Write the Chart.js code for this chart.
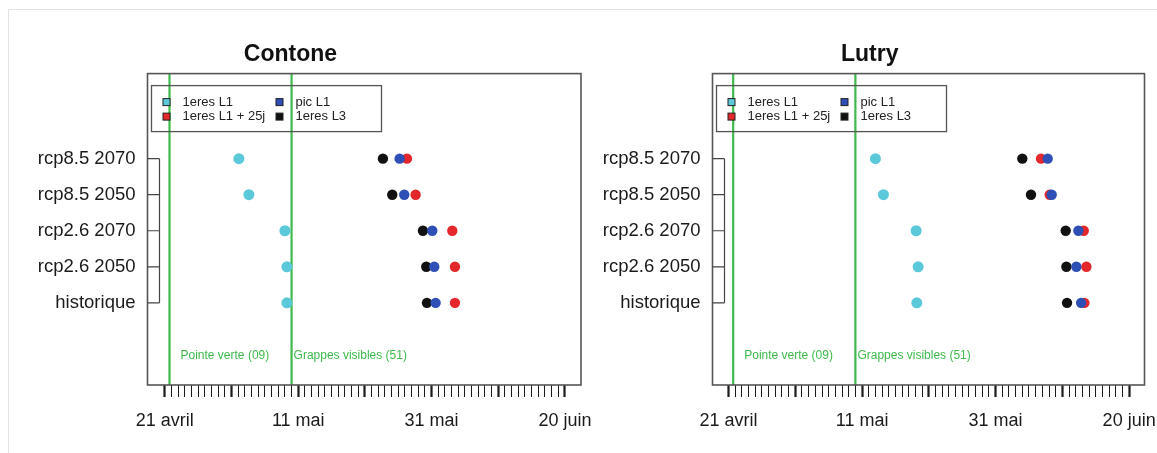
<!DOCTYPE html>
<html>
<head>
<meta charset="utf-8">
<script src="https://cdn.jsdelivr.net/npm/chart.js@4/dist/chart.umd.min.js"></script>
<style>
  html, body { margin: 0; padding: 0; background: #fff; overflow: hidden; }
  body { width: 1157px; height: 453px; position: relative; }
  #frame { position: absolute; left: 8px; top: 9px; width: 1160px; height: 460px;
           border-top: 1px solid #e2e2e2; border-left: 1px solid #e2e2e2; }
  canvas { position: absolute; top: 0; }
  #c1 { left: 0; }
  #c2 { left: 595px; }
</style>
</head>
<body>
<div id="frame"></div>
<canvas id="c1" width="630" height="453"></canvas>
<canvas id="c2" width="605" height="453"></canvas>
<script>
// rows, top to bottom
var categories = ['rcp8.5 2070', 'rcp8.5 2050', 'rcp2.6 2070', 'rcp2.6 2050', 'historique'];
var rowValues = [5, 4, 3, 2, 1];

// x axis: day of year (21 avril = 111)
var tickDays = [111, 131, 151, 171];
var tickLabels = ['21 avril', '11 mai', '31 mai', '20 juin'];
var firstDay = 111, lastDay = 171;

// stage lines
var stageDays = [111.7, 130.0];
var stageLabels = ['Pointe verte (09)', 'Grappes visibles (51)'];

var seriesNames = ['1eres L1', 'pic L1', '1eres L1 + 25j', '1eres L3'];

// Contone
var contoneL1 = [122.1, 123.6, 129.0, 129.3, 129.3];
var contonePic = [146.2, 146.9, 151.1, 151.4, 151.6];
var contoneL1p25 = [147.3, 148.6, 154.1, 154.5, 154.5];
var contoneL3 = [143.7, 145.1, 149.7, 150.2, 150.3];

// Lutry
var lutryL1 = [133.0, 134.2, 139.1, 139.4, 139.2];
var lutryPic = [158.8, 159.4, 163.4, 163.1, 163.8];
var lutryL1p25 = [157.8, 159.1, 164.2, 164.6, 164.3];
var lutryL3 = [155.0, 156.3, 161.5, 161.6, 161.7];

var colL1 = '#5cc9db', colPic = '#2d4fb6', colL1p25 = '#e3272b', colL3 = '#111111';
var green = '#3dba4b';

function pts(arr) {
    return arr.map(function(v, i) { return { x: v, y: rowValues[i] }; });
}

var decor = {
    id: 'decor',
    afterDatasetsDraw: function(chart) {
        var ctx = chart.ctx, a = chart.chartArea;
        var xs = chart.scales.x, ys = chart.scales.y;
        ctx.save();
        // box
        ctx.strokeStyle = '#555';
        ctx.lineWidth = 1.6;
        ctx.strokeRect(a.left, a.top, a.right - a.left, a.bottom - a.top);
        // bracket on the left
        ctx.strokeStyle = '#444';
        ctx.lineWidth = 1.2;
        var bx = a.left + 12;
        ctx.beginPath();
        rowValues.forEach(function(v) {
            var py = ys.getPixelForValue(v);
            ctx.moveTo(a.left, py);
            ctx.lineTo(bx, py);
        });
        ctx.moveTo(bx, ys.getPixelForValue(rowValues[0]));
        ctx.lineTo(bx, ys.getPixelForValue(rowValues[rowValues.length - 1]));
        ctx.stroke();
        // stage labels
        ctx.fillStyle = green;
        ctx.font = '12px "Liberation Sans", Arial, sans-serif';
        ctx.textBaseline = 'middle';
        ctx.textAlign = 'left';
        var offs = [11, 2];
        stageDays.forEach(function(d, i) {
            ctx.fillText(stageLabels[i], xs.getPixelForValue(d) + offs[i], a.bottom - 29);
        });
        // legend
        var lx = a.left + 4, ly = a.top + 12;
        ctx.strokeStyle = '#555';
        ctx.lineWidth = 1.3;
        ctx.strokeRect(lx, ly, 230, 46);
        var items = [
            [seriesNames[0], colL1, 15, 16.5],
            [seriesNames[1], colPic, 128, 16.5],
            [seriesNames[2], colL1p25, 15, 31],
            [seriesNames[3], colL3, 128, 31]
        ];
        ctx.font = '13px "Liberation Sans", Arial, sans-serif';
        items.forEach(function(it) {
            var cx = lx + it[2], cy = ly + it[3];
            ctx.fillStyle = it[1];
            ctx.fillRect(cx - 3.5, cy - 3.5, 7, 7);
            ctx.strokeStyle = '#222';
            ctx.lineWidth = 1;
            ctx.strokeRect(cx - 3.5, cy - 3.5, 7, 7);
            ctx.fillStyle = '#222';
            ctx.fillText(it[0], cx + 16, cy);
        });
        ctx.restore();
    }
};

function makeChart(id, title, l1, pic, l1p25, l3, yWidth, padRight, xMin, xMax) {
    var days = [];
    for (var d = firstDay; d <= lastDay; d++) days.push(d);

    var stageSets = stageDays.map(function(d) {
        return {
            type: 'line',
            data: [{ x: d, y: -2 }, { x: d, y: 9 }],
            borderColor: green,
            borderWidth: 2.2,
            pointRadius: 0,
            showLine: true,
            order: 10
        };
    });

    var ctx = document.getElementById(id).getContext('2d');
    return new Chart(ctx, {
        type: 'scatter',
        data: {
            datasets: stageSets.concat([
                { label: seriesNames[0], data: pts(l1), backgroundColor: colL1, pointRadius: 5.5, borderWidth: 0, order: 4 },
                { label: seriesNames[3], data: pts(l3), backgroundColor: colL3, pointRadius: 5.2, borderWidth: 0, order: 3 },
                { label: seriesNames[2], data: pts(l1p25), backgroundColor: colL1p25, pointRadius: 5.2, borderWidth: 0, order: 2 },
                { label: seriesNames[1], data: pts(pic), backgroundColor: colPic, pointRadius: 5.2, borderWidth: 0, order: 1 }
            ])
        },
        options: {
            responsive: false,
            animation: false,
            devicePixelRatio: 1,
            layout: { padding: { left: 0, right: padRight, top: 0, bottom: 0 } },
            scales: {
                x: {
                    type: 'linear',
                    min: xMin,
                    max: xMax,
                    afterBuildTicks: function(scale) {
                        scale.ticks = days.map(function(v) { return { value: v }; });
                    },
                    afterFit: function(scale) { scale.height = 68; },
                    border: { display: false },
                    grid: {
                        drawOnChartArea: false,
                        drawTicks: true,
                        tickLength: 12,
                        tickColor: '#1a1a1a',
                        tickWidth: function(c) {
                            return c.tick && (c.tick.value - firstDay) % 10 === 0 ? 2.2 : 1;
                        }
                    },
                    ticks: {
                        autoSkip: false,
                        maxRotation: 0,
                        minRotation: 0,
                        padding: 13,
                        color: '#1a1a1a',
                        font: { family: '"Liberation Sans", Arial, sans-serif', size: 18 },
                        callback: function(v) {
                            var i = tickDays.indexOf(v);
                            return i >= 0 ? tickLabels[i] : '';
                        }
                    }
                },
                y: {
                    type: 'linear',
                    min: -1.28,
                    max: 7.36,
                    afterBuildTicks: function(scale) {
                        scale.ticks = rowValues.map(function(v) { return { value: v }; });
                    },
                    afterFit: function(scale) { scale.width = yWidth; },
                    border: { display: false },
                    grid: { display: false, drawTicks: false },
                    ticks: {
                        padding: 12,
                        color: '#1a1a1a',
                        font: { family: '"Liberation Sans", Arial, sans-serif', size: 18.5 },
                        callback: function(v) {
                            var i = rowValues.indexOf(v);
                            return i >= 0 ? categories[i] : '';
                        }
                    }
                }
            },
            plugins: {
                legend: { display: false },
                tooltip: { enabled: false },
                title: {
                    display: true,
                    text: title,
                    color: '#111',
                    font: { family: '"Liberation Sans", Arial, sans-serif', size: 23, weight: 'bold', lineHeight: 1.2 },
                    padding: { top: 41, bottom: 5 }
                }
            }
        },
        plugins: [decor]
    });
}

makeChart('c1', 'Contone', contoneL1, contonePic, contoneL1p25, contoneL3, 147.5, 49, 108.4, 173.4);
makeChart('c2', 'Lutry', lutryL1, lutryPic, lutryL1p25, lutryL3, 117.5, 55.5, 108.6, 173.3);
</script>
</body>
</html>
